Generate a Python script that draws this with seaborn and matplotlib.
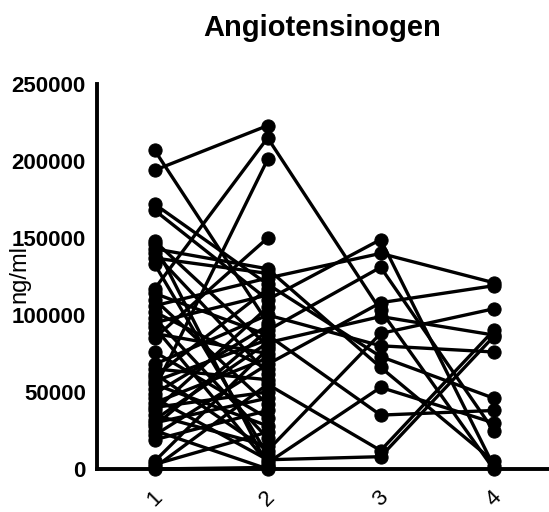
import numpy as np
import pandas as pd
import matplotlib
matplotlib.use("Agg")
import matplotlib.pyplot as plt
import seaborn as sns

# Angiotensinogen (ng/ml) per subject at four visits; NaN = not measured
visits = [1, 2, 3, 4]
visit_labels = ["1", "2", "3", "4"]

visit1 = [207000, 194000, 172000, 168000, 148000, 146000, 143000, 140000, 137000, 133000,
          117000, 114000, 110000, 106000, 102000, 98000, 95000, 92000, 88000, 85000,
          76000, 68000, 65000, 62000, 60000, 57000, 55000, 52000, 49000, 46000,
          43000, 40000, 38000, 35000, 32000, 30000, 28000, 25000, 22000, 19000,
          5000, 3000, 1000, 0]
visit2 = [95000, 223000, 120000, 110000, 80000, 2000, 130000, 62000, 127000, 9000,
          215000, 87000, 42000, 124000, 65000, 20000, 113000, 4000, 75000, 150000,
          33000, 100000, 58000, 12000, 117000, 84000, 28000, 201000, 93000, 6000,
          72000, 50000, 105000, 15000, 82000, 46000, 90000, 0, 68000, 38000,
          78000, 24000, 55000, 1000]
nan = np.nan
visit3 = [nan, nan, 73000, 149000, nan, nan, 66000, nan, nan, nan,
          103000, 35000, nan, 140000, nan, nan, nan, 53000, nan, nan,
          nan, 80000, nan, 88000, nan, nan, nan, nan, nan, 8000,
          nan, nan, nan, nan, 99000, nan, 131000, nan, 108000, nan,
          nan, nan, 12000, nan]
visit4 = [nan, nan, 46000, 2000, nan, nan, 5000, nan, nan, nan,
          0, 38000, nan, 121000, nan, nan, nan, 30000, nan, nan,
          nan, 76000, nan, 104000, nan, nan, nan, nan, nan, 86000,
          nan, nan, nan, nan, 87000, nan, 25000, nan, 119000, nan,
          nan, nan, 90000, nan]

rows = []
for sid, vals in enumerate(zip(visit1, visit2, visit3, visit4)):
    for v, val in zip(visits, vals):
        if not np.isnan(val):
            rows.append({"subject": sid, "visit": v, "value": val})
df = pd.DataFrame(rows)

sns.set_style("white")
plt.rcParams["font.family"] = ["Liberation Sans", "DejaVu Sans"]
plt.rcParams["text.color"] = "black"
plt.rcParams["xtick.color"] = "black"
plt.rcParams["ytick.color"] = "black"

fig = plt.figure(figsize=(5.49, 5.12), dpi=100)
ax = fig.add_axes([97 / 549, 1 - 469 / 512, 1 - 97 / 549, 385 / 512])

sns.lineplot(data=df, x="visit", y="value", units="subject", estimator=None,
             color="black", linewidth=2.4, marker="o", markersize=9.5,
             markeredgecolor="black", markerfacecolor="black", ax=ax,
             legend=False, clip_on=False)

ax.set_xlim(0.49, 4.49)
ax.set_ylim(0, 250000)
ax.set_xticks(visits)
ax.set_xticklabels(visit_labels, rotation=45, fontsize=16, fontweight="normal")
ax.set_yticks([0, 50000, 100000, 150000, 200000, 250000])
ax.set_yticklabels(["0", "50000", "100000", "150000", "200000", "250000"],
                   fontsize=16, fontweight="bold")
ax.tick_params(axis="both", direction="out", length=6, width=2.4,
               color="black", labelcolor="black")
ax.tick_params(axis="x", pad=7)
ax.tick_params(axis="y", pad=2)

for side in ("top", "right"):
    ax.spines[side].set_visible(False)
for side in ("left", "bottom"):
    ax.spines[side].set_linewidth(2.8)
    ax.spines[side].set_color("black")

ax.set_xlabel("")
ax.set_ylabel("")
fig.text(19 / 549, 1 - 274 / 512, "ng/ml", rotation=90, fontsize=17,
         ha="center", va="center", color="black")
fig.text(322 / 549, 1 - 28 / 512, "Angiotensinogen", fontsize=21, fontweight="bold",
         ha="center", va="center", color="black")

fig.savefig("out.png", dpi=100)
